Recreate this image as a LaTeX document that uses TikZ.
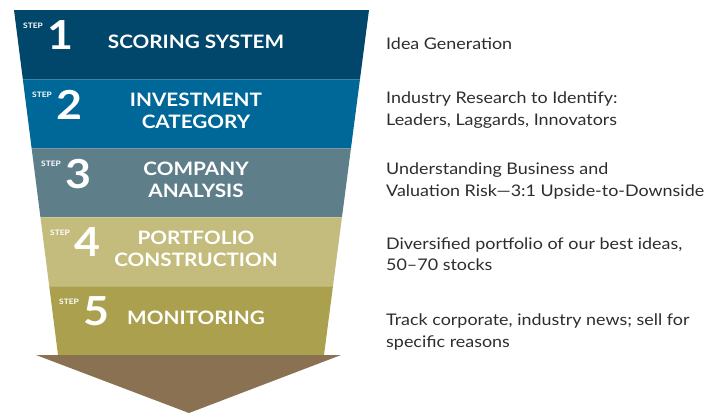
\documentclass[tikz,border=0pt]{standalone}
\usepackage{fontspec}
\setmainfont{Lato}[FakeStretch=1.12]
\usetikzlibrary{positioning}
\definecolor{stepA}{RGB}{1,71,107}
\definecolor{stepB}{RGB}{0,103,153}
\definecolor{stepC}{RGB}{94,127,138}
\definecolor{stepD}{RGB}{196,188,125}
\definecolor{stepE}{RGB}{170,160,78}
\definecolor{arrowbrown}{RGB}{138,113,82}
\definecolor{descgray}{RGB}{45,45,45}
\tikzset{
  steplabel/.style={text=white,inner sep=0pt,font=\bfseries\fontsize{7.5}{8}\selectfont},
  stepnum/.style={text=white,inner sep=0pt,font=\bfseries\fontsize{40}{40}\selectfont},
  stephead/.style={text=white,align=center,inner sep=0pt,font=\bfseries\fontsize{18.5}{22}\selectfont},
  stepdesc/.style={text=descgray,anchor=west,align=left,inner sep=0pt,font=\fontsize{16}{21.5}\selectfont}
}
\begin{document}
\begin{tikzpicture}[x=1pt,y=-1pt]
        \useasboundingbox (0,0) rectangle (722,413);
        % funnel bands
        \foreach \i/\col/\dy/\head/\desc in {
          1/stepA/44/{SCORING SYSTEM}/{Idea Generation},
          2/stepB/110/{INVESTMENT\\CATEGORY}/{Industry Research to Identify:\\Leaders, Laggards, Innovators},
          3/stepC/181/{COMPANY\\ANALYSIS}/{Understanding Business and\\Valuation Risk—3:1 Upside-to-Downside},
          4/stepD/254/{PORTFOLIO\\CONSTRUCTION}/{Diversified portfolio of our best ideas,\\50–70 stocks},
          5/stepE/332/{MONITORING}/{Track corporate, industry news; sell for\\specific reasons}}
        {
          \pgfmathsetmacro\yt{10+69*(\i-1)}
          \pgfmathsetmacro\yb{\yt+69}
          \fill[\col] ({14+44*(\yt-10)/345},\yt) -- ({369-45*(\yt-10)/345},\yt)
            -- ({369-45*(\yb-10)/345},\yb) -- ({14+44*(\yb-10)/345},\yb) -- cycle;
          \ifnum\i>1
            \draw[\col!80!white,line width=1.2pt] ({14+44*(\yt-10)/345},\yt+0.6) -- ({369-45*(\yt-10)/345},\yt+0.6);
          \fi
          \node[steplabel,anchor=north west] (step\i) at ({23+9*(\i-1)},{23+69*(\i-1)}) {STEP};
          \node[stepnum,anchor=north west] (num\i) at ([xshift=4pt,yshift=2.3pt]step\i.north east) {\i};
          \node[stephead] (head\i) at (196,\yt+32) {\head};
          \node[stepdesc] (desc\i) at (386,\dy) {\desc};
        }
        % arrow
        \fill[arrowbrown] (36,355) -- (341,355) -- (189,413) -- cycle;
\end{tikzpicture}
\end{document}
